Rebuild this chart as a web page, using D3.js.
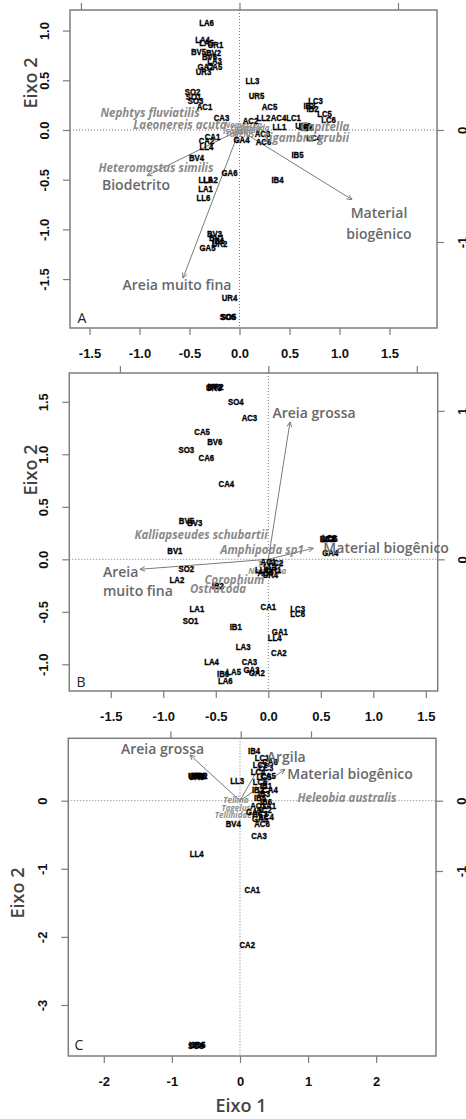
<!DOCTYPE html>
<html><head><meta charset="utf-8">
<script src="https://cdn.jsdelivr.net/npm/d3@7"></script>
<style>body{margin:0;background:#fff;overflow:hidden} svg{display:block}</style>
</head><body>
<script>
// ---------------- DATA ----------------
const xTicksAB = [-1.5,-1,-0.5,0,0.5,1,1.5];
const yTicksA = [1,0.5,0,-0.5,-1,-1.5];
const yTicksB = [1.5,1,0.5,0,-0.5,-1];
const xTicksC = [-2,-1,0,1,2];
const yTicksC = [0,-1,-2,-3];
const topTicks = [-1,0,1];
const rightTicksA = [0,-1];
const rightTicksB = [1,0];
const rightTicksC = [0,-1];

const sitesA = [
["LA6",-0.33,1.08],["LA4",-0.37,0.91],["LA5",-0.33,0.88],["UR1",-0.24,0.86],["BV5",-0.41,0.79],
["BV2",-0.26,0.78],["BV6",-0.30,0.74],["LA3",-0.25,0.70],["GA2",-0.34,0.64],["CA5",-0.25,0.64],
["UR3",-0.36,0.59],["SO2",-0.47,0.39],["SO1",-0.46,0.34],["SO3",-0.44,0.29],["AC1",-0.35,0.23],
["LL3",0.13,0.50],["UR5",0.17,0.35],["AC5",0.30,0.23],["LC3",0.76,0.29],["IB3",0.70,0.24],
["IB2",0.73,0.21],["LC5",0.85,0.16],["LC6",0.89,0.10],["CA3",-0.18,0.12],["AC2",0.11,0.09],
["LL2",0.24,0.12],["AC4",0.39,0.12],["LC1",0.54,0.12],["LL1",0.40,0.03],["LC2",0.665,0.03],
["UR6",0.635,0.04],["IB6",0.68,0.02],["LC4",0.74,-0.08],["CA1",-0.27,-0.07],["CA2",-0.33,-0.11],
["LL4",-0.33,-0.17],["GA4",0.02,-0.10],["AC3",0.23,-0.04],["AC6",0.24,-0.12],["BV4",-0.43,-0.28],
["IB5",0.58,-0.25],["GA6",-0.10,-0.43],["LL5",-0.34,-0.50],["LA2",-0.29,-0.50],["LA1",-0.34,-0.59],
["LL6",-0.36,-0.68],["IB4",0.38,-0.50],["BV3",-0.25,-1.04],["BV1",-0.23,-1.08],["IB1",-0.21,-1.11],
["UR2",-0.20,-1.14],["GA5",-0.32,-1.18],["UR4",-0.10,-1.69],["SO6",-0.12,-1.88],["SO5",-0.11,-1.88]
];
const speciesA = [
["Nephtys fluviatilis",-0.895,0.17],["Laeonereis acuta",-0.595,0.05],["Capitella",0.855,0.03],
["Sigambra grubii",0.665,-0.08],["Heteromastus similis",-0.835,-0.38]
];
const minorSpeciesA = [
["Nemertea",0.035,0.05],["Tellina",0.085,0.0],["Tagelus",0.005,-0.04],["Ostracoda",0.105,0.02],["Isopoda",-0.015,-0.01]
];
const envA = [["Biodetrito",-0.925,-0.46],["Areia muito fina",-0.565,-1.49],["Material biogênico",1.125,-0.70]];

const sitesB = [
["BV2",-0.51,1.64],["UR2",-0.50,1.645],["UR3",-0.52,1.635],["SO4",-0.31,1.50],["AC3",-0.18,1.35],
["CA5",-0.63,1.22],["BV6",-0.51,1.12],["SO3",-0.78,1.04],["CA6",-0.59,0.97],["CA4",-0.40,0.72],
["BV5",-0.78,0.37],["BV3",-0.70,0.35],["BV1",-0.89,0.08],["SO2",-0.78,-0.09],["LA2",-0.87,-0.19],
["IB2",-0.48,-0.25],["LA1",-0.68,-0.47],["SO1",-0.74,-0.58],["IB1",-0.31,-0.64],["CA1",0.0,-0.45],
["LC3",0.28,-0.47],["LC6",0.28,-0.52],["GA1",0.11,-0.69],["LL4",0.06,-0.75],["LA3",-0.24,-0.83],
["CA2",0.10,-0.89],["LA4",-0.54,-0.97],["CA3",-0.18,-0.97],["GA3",-0.16,-1.05],["GA2",-0.11,-1.08],
["LA5",-0.33,-1.07],["IB6",-0.43,-1.09],["LA6",-0.41,-1.16],
["LC1",0.56,0.20],["LC2",0.58,0.205],["LC4",0.57,0.195],["LC5",0.59,0.20],["GA4",0.59,0.06],
["AC1",0.0,-0.02],["AC2",0.07,-0.03],["LL1",0.02,-0.07],["LL2",-0.06,-0.10],["UR1",0.05,-0.10],
["AC4",-0.03,-0.13],["UR4",0.02,-0.15]
];
const speciesB = [
["Kalliapseudes schubartii",-0.641,0.231],["Amphipoda sp1",-0.060,0.089],["Corophium",-0.322,-0.197],["Ostracoda",-0.479,-0.283]
];
const minorSpeciesB = [["Tellina",0.02,-0.05],["Nemertea",-0.01,-0.11]];
const envB = [["Areia grossa",0.207,1.308],["Areia muito fina",-1.222,-0.095],["Material biogênico",0.429,0.105]];

const sitesC = [
["IB4",0.206,0.734],["UR1",-0.62,0.36],["UR2",-0.59,0.36],["UR3",-0.65,0.36],["UR5",-0.60,0.37],["UR6",-0.64,0.35],
["LL3",-0.04,0.30],["CA6",0.441,0.568],["LC1",0.323,0.627],["LC2",0.294,0.524],["LC3",0.382,0.480],
["LC4",0.264,0.422],["CA5",0.411,0.363],["LC5",0.352,0.348],["LC6",0.294,0.275],["IB1",0.382,0.216],
["IB2",0.264,0.157],["CA4",0.441,0.157],["IB3",0.352,0.098],["IB5",0.294,0.040],["IB6",0.382,-0.019],
["AC1",0.264,-0.078],["GA1",0.411,-0.078],["AC2",0.352,-0.137],["GA2",0.206,-0.166],["AC3",0.294,-0.196],
["AC4",0.382,-0.239],["AC6",0.323,-0.342],["GA5",0.294,-0.258],["BV4",-0.098,-0.342],["CA3",0.279,-0.518],
["LL4",-0.636,-0.772],["CA1",0.181,-1.301],["CA2",0.107,-2.119],["UR4",-0.636,-3.587],["SO5",-0.62,-3.587],["SO6",-0.65,-3.59]
];
const speciesC = [["Heleobia australis",1.571,0.04]];
const minorSpeciesC = [["Tellina",-0.06,0.0],["Tagelus",-0.06,-0.11],["Tellinidae",-0.10,-0.21]];
const envC = [["Areia grossa",-0.734,0.671],["Argila",0.323,0.568],["Material biogênico",0.661,0.461]];

// ---------------- LAYOUT ----------------
const W = 466, H = 1119;
const boxColor = "#7d7d7d";
const svg = d3.select("body").append("svg").attr("width", W).attr("height", H);

const panels = [
 { letter:"A", box:[70,10,437,328], x:[-1.695,1.975], y:[1.207,-1.992], x2:[-1.069,1.246], y2:[1.071,-1.768],
   xt:xTicksAB, yt:yTicksA, rt:rightTicksA, fmt:d=>d.toFixed(1), rfmt:d=>String(d),
   sites:sitesA, species:speciesA, minor:minorSpeciesA, env:envA,
   envLab:[{dx:-11,dy:9,anchor:"middle"},{dx:-6,dy:7,anchor:"middle"},{dx:27,dy:24.5,anchor:"middle",split:true,lh:21}],
   letterPos:[82,318], eixo:[31,83] },
 { letter:"B", box:[69.3,373,437.7,691], x:[-1.895,1.613], y:[1.774,-1.254], x2:[-1.341,1.141], y2:[1.255,-0.887],
   xt:xTicksAB, yt:yTicksB, rt:rightTicksB, fmt:d=>d.toFixed(1), rfmt:d=>String(d),
   sites:sitesB, species:speciesB, minor:minorSpeciesB, env:envB,
   envLab:[{dx:24,dy:-9,anchor:"middle"},{dx:-37,dy:2.5,anchor:"start",split:true,lh:19},{dx:10,dy:0,anchor:"start"}],
   letterPos:[81,682], eixo:[31,470] },
 { letter:"C", box:[68.3,738.3,436,1056], x:[-2.521,2.878], y:[0.916,-3.749], x2:[-2.452,2.778], y2:[0.888,-3.632],
   xt:xTicksC, yt:yTicksC, rt:rightTicksC, fmt:d=>String(d), rfmt:d=>String(d),
   sites:sitesC, species:speciesC, minor:minorSpeciesC, env:envC,
   envLab:[{dx:-27.5,dy:-6,anchor:"middle"},{dx:4.7,dy:-5,anchor:"start"},{dx:2.3,dy:4.7,anchor:"start"}],
   letterPos:[79,1045], eixo:[18,893] }
];

const TICK_FONT = "bold 13px 'Liberation Sans', Arial, sans-serif";

function styleAxis(g){
  g.select(".domain").remove();
  g.selectAll(".tick line").attr("stroke", boxColor).attr("stroke-width", 1.2);
  g.selectAll(".tick text").attr("fill","#111").style("font", TICK_FONT);
}

panels.forEach(p => {
  const [L,T,R,B] = p.box;
  const x = d3.scaleLinear().domain(p.x).range([L,R]);
  const y = d3.scaleLinear().domain(p.y).range([T,B]);
  const x2 = d3.scaleLinear().domain(p.x2).range([L,R]);
  const y2 = d3.scaleLinear().domain(p.y2).range([T,B]);
  const g = svg.append("g");

  // dotted zero lines
  g.append("line").attr("x1",L).attr("x2",R).attr("y1",y(0)).attr("y2",y(0))
    .attr("stroke","#777").attr("stroke-width",1).attr("stroke-dasharray","1,2");
  g.append("line").attr("x1",x(0)).attr("x2",x(0)).attr("y1",T).attr("y2",B)
    .attr("stroke","#777").attr("stroke-width",1).attr("stroke-dasharray","1,2");

  // axes
  const ab = g.append("g").attr("transform",`translate(0,${B})`)
    .call(d3.axisBottom(x).tickValues(p.xt).tickSize(7).tickFormat(p.fmt));
  styleAxis(ab);
  ab.selectAll(".tick text").attr("y",25).attr("dy","0.35em");

  const al = g.append("g").attr("transform",`translate(${L},0)`)
    .call(d3.axisLeft(y).tickValues(p.yt).tickSize(7).tickFormat(p.fmt));
  styleAxis(al);
  al.selectAll(".tick text").attr("x",null).attr("y",null).attr("dy","0.35em")
    .attr("text-anchor","middle").attr("transform","translate(-26,0) rotate(-90)");

  const at = g.append("g").attr("transform",`translate(0,${T})`)
    .call(d3.axisTop(x2).tickValues(topTicks).tickSize(7).tickFormat(""));
  styleAxis(at);

  const ar = g.append("g").attr("transform",`translate(${R},0)`)
    .call(d3.axisRight(y2).tickValues(p.rt).tickSize(7).tickFormat(p.rfmt));
  styleAxis(ar);
  ar.selectAll(".tick text").attr("x",null).attr("y",null).attr("dy","0.35em")
    .attr("text-anchor","middle").attr("transform","translate(25,0) rotate(-90)");

  // box
  g.append("rect").attr("x",L).attr("y",T).attr("width",R-L).attr("height",B-T)
    .attr("fill","none").attr("stroke",boxColor).attr("stroke-width",1.5);

  // env arrows
  const ox = x(0), oy = y(0);
  p.env.forEach((e,i) => {
    const tx = x(e[1]), ty = y(e[2]);
    g.append("line").attr("x1",ox).attr("y1",oy).attr("x2",tx).attr("y2",ty)
      .attr("stroke","#7a7a7a").attr("stroke-width",1);
    const a = Math.atan2(ty-oy, tx-ox), hl = 5.5;
    [0.45,-0.45].forEach(da => {
      g.append("line").attr("x1",tx).attr("y1",ty)
        .attr("x2",tx - hl*Math.cos(a+da)).attr("y2",ty - hl*Math.sin(a+da))
        .attr("stroke","#7a7a7a").attr("stroke-width",1);
    });
  });

  // minor species (grey small cluster)
  g.selectAll(null).data(p.minor).enter().append("text")
    .attr("x",d=>x(d[1])).attr("y",d=>y(d[2])).attr("dy","0.35em").attr("text-anchor","middle")
    .attr("fill","#8f8f8f").style("font","italic 700 8px 'Open Sans', sans-serif").text(d=>d[0]);

  // site labels
  g.selectAll(null).data(p.sites).enter().append("text")
    .attr("transform",d=>`translate(${x(d[1])},${y(d[2])}) scale(0.82,1)`)
    .attr("dy","0.35em").attr("text-anchor","middle")
    .attr("fill","#000").attr("stroke","#000").attr("stroke-width",0.35)
    .style("font","bold 9.5px 'Liberation Sans', Arial, sans-serif").text(d=>d[0]);

  // species labels
  g.selectAll(null).data(p.species).enter().append("text")
    .attr("x",d=>x(d[1])).attr("y",d=>y(d[2])).attr("dy","0.35em").attr("text-anchor","middle")
    .attr("fill","#8a8a8a").style("font","italic 700 11.5px 'Open Sans', sans-serif").text(d=>d[0]);

  // env labels
  p.env.forEach((e,i) => {
    const lab = p.envLab[i];
    const tx = x(e[1]) + lab.dx, ty = y(e[2]) + lab.dy;
    const t = g.append("text").attr("text-anchor",lab.anchor).attr("fill","#686868")
      .style("font","600 14px 'Open Sans', sans-serif");
    if (lab.split) {
      const k = e[0].indexOf(" ");
      const parts = [e[0].slice(0,k), e[0].slice(k+1)];
      const y0 = lab.anchor==="middle" ? ty - lab.lh/2 : ty;
      parts.forEach((s,j) => t.append("tspan").attr("x",tx).attr("y", y0 + j*lab.lh).attr("dy","0.35em").text(s));
    } else {
      t.attr("x",tx).attr("y",ty).attr("dy","0.35em").text(e[0]);
    }
  });

  // panel letter
  svg.append("text").attr("x",p.letterPos[0]).attr("y",p.letterPos[1]).attr("dy","0.35em")
    .attr("text-anchor","middle").attr("fill","#222")
    .style("font","14px 'Open Sans', sans-serif").text(p.letter);

  // y-axis title
  svg.append("text").attr("transform",`translate(${p.eixo[0]},${p.eixo[1]}) rotate(-90)`)
    .attr("dy","0.35em").attr("text-anchor","middle").attr("fill","#444")
    .style("font","600 18px 'Open Sans', sans-serif").text("Eixo 2");
});

svg.append("text").attr("x",241).attr("y",1106).attr("dy","0.35em").attr("text-anchor","middle")
  .attr("fill","#444").style("font","600 18px 'Open Sans', sans-serif").text("Eixo 1");
</script>
</body></html>
